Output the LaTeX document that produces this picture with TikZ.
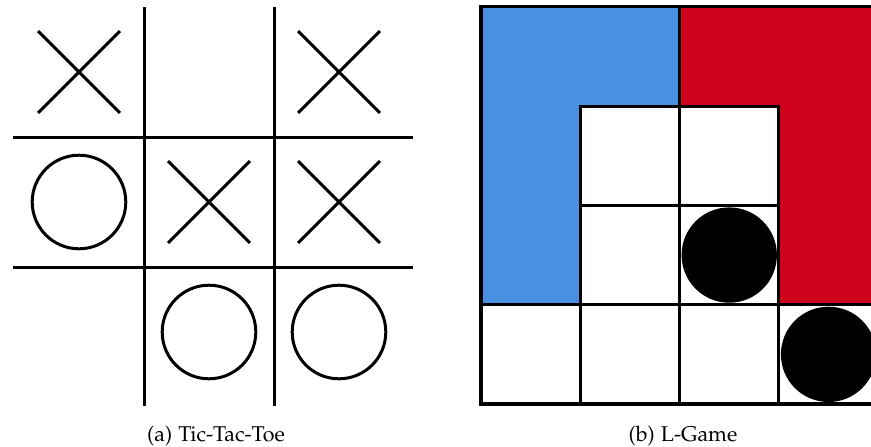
\documentclass[tikz,border=0pt]{standalone}
\usepackage[T1]{fontenc}
\usepackage[sc]{mathpazo}
\usepackage{tikz}
\definecolor{lblue}{RGB}{74,144,226}
\definecolor{lred}{RGB}{208,2,27}
\newcommand{\tttcross}[2]{%
  \draw[line width=1.5pt] (#1+0.5-0.315,#2+0.5-0.315)--(#1+0.5+0.315,#2+0.5+0.315);%
  \draw[line width=1.5pt] (#1+0.5-0.315,#2+0.5+0.315)--(#1+0.5+0.315,#2+0.5-0.315);%
}
\newcommand{\tttnought}[2]{\draw[line width=1.5pt] (#1+0.5,#2+0.5) circle(0.36);}

\begin{document}
\begin{tikzpicture}[x=0.5pt,y=0.5pt,font=\fontsize{10.7}{13}\selectfont]
  \useasboundingbox (0,0) rectangle (871,446);
  % tic-tac-toe
  \begin{scope}[shift={(7pt,24.5pt)},x=65pt,y=65pt]
    \foreach \k in {1,2}{
      \draw[line width=1.5pt] (\k,-0.07)--(\k,3);
      \draw[line width=1.5pt] (-0.01,\k)--(3.07,\k);}
    \tttcross{0}{2} \tttcross{2}{2}
    \tttcross{1}{1} \tttcross{2}{1}
    \tttnought{0}{1} \tttnought{1}{0} \tttnought{2}{0}
  \end{scope}
  % L-game
  \begin{scope}[shift={(240.5pt,21pt)},x=49.65pt,y=49.65pt]
    \draw[line width=1.5pt,step=1] (0,0) grid (4,4);
    \draw[line width=2pt] (0,0) rectangle (4,4);
    \filldraw[fill=lblue,line width=1.5pt] (0,1)--(0,4)--(2,4)--(2,3)--(1,3)--(1,1)--cycle;
    \filldraw[fill=lred,line width=1.5pt] (2,3)--(2,4)--(4,4)--(4,1)--(3,1)--(3,3)--cycle;
    \fill (2.5,1.5) circle(0.48);
    \fill (3.5,0.5) circle(0.48);
  \end{scope}
  \node[anchor=base] (capa) at (216,5) {(a) Tic-Tac-Toe};
  \node[anchor=base] (capb) at (683,5) {(b) L-Game};
\end{tikzpicture}
\end{document}
